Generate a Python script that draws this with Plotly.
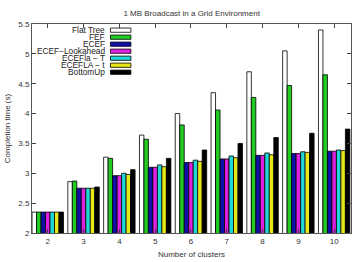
import plotly.graph_objects as go

clusters = [2, 3, 4, 5, 6, 7, 8, 9, 10]
series_names = ["Flat Tree", "FEF", "ECEF", "ECEF\u2212Lookahead", "ECEFla \u2212 T", "ECEFLA \u2212 t", "BottomUp"]
flat_tree = [2.35, 2.86, 3.27, 3.64, 4.00, 4.35, 4.70, 5.05, 5.40]
fef       = [2.35, 2.87, 3.25, 3.57, 3.81, 4.06, 4.27, 4.47, 4.65]
ecef      = [2.35, 2.75, 2.96, 3.10, 3.18, 3.24, 3.30, 3.33, 3.37]
ecef_la   = [2.35, 2.75, 2.96, 3.10, 3.18, 3.24, 3.30, 3.33, 3.37]
ecefla_T  = [2.35, 2.75, 3.00, 3.14, 3.22, 3.29, 3.34, 3.36, 3.39]
eceflA_t  = [2.35, 2.75, 2.98, 3.11, 3.20, 3.26, 3.31, 3.35, 3.38]
bottom_up = [2.35, 2.77, 3.06, 3.25, 3.39, 3.50, 3.60, 3.67, 3.74]
y_ticks = [2, 2.5, 3, 3.5, 4, 4.5, 5, 5.5]

series = [flat_tree, fef, ecef, ecef_la, ecefla_T, eceflA_t, bottom_up]
colors = ["#ffffff", "#22cc22", "#1010a8", "#e020e0", "#20d8d8", "#e8e818", "#000000"]

W, H = 357, 262
L, R, T, B = 31.7, 352.0, 24.3, 241.0

fig = go.Figure()
for name, vals, col in zip(series_names, series, colors):
    fig.add_trace(go.Bar(x=clusters, y=vals, name=name, marker_color=col,
                         marker_line_color="#000000", marker_line_width=0.8,
                         showlegend=False))

font = dict(family="Liberation Sans, Arial, sans-serif", size=8, color="#333333")

def px(x):
    return (x - L) / (R - L)

def py(y):
    return (B - y) / (B - T)

# custom gnuplot-style legend
y0 = 30.7
dy = 7.27
for i, (name, col) in enumerate(zip(series_names, colors)):
    yc = y0 + i * dy
    fig.add_annotation(x=px(107.5), y=py(yc), xref="paper", yref="paper",
                       text=name, showarrow=False, xanchor="right", yanchor="middle",
                       font=dict(family=font["family"], size=8.3, color="#222222"))
    fig.add_shape(type="rect", xref="paper", yref="paper",
                  x0=px(110.5), x1=px(131), y0=py(yc - 2.2), y1=py(yc + 2.2),
                  fillcolor=col, line=dict(color="#000000", width=0.8))

fig.update_layout(
    width=W, height=H,
    margin=dict(l=L, r=W - R, t=T, b=H - B, pad=0),
    paper_bgcolor="white", plot_bgcolor="white",
    barmode="group", bargap=0.122, bargroupgap=0,
    font=font,
    title=dict(text="1 MB Broadcast in a Grid Environment", x=px(192), xref="paper",
               y=1 - 13 / H, yanchor="middle", xanchor="center",
               font=dict(family=font["family"], size=8, color="#333333")),
    xaxis=dict(range=[1.56, 10.47], tickmode="array", tickvals=clusters,
               ticktext=[str(c) for c in clusters],
               ticks="inside", ticklen=4, tickcolor="#444444", tickwidth=1,
               showline=True, linecolor="#555555", linewidth=1, mirror="allticks",
               showgrid=False, zeroline=False,
               title=dict(text="Number of clusters", standoff=6, font=font),
               tickfont=font),
    yaxis=dict(range=[2, 5.5], tickmode="array", tickvals=y_ticks,
               ticktext=[("%g" % v) for v in y_ticks],
               ticks="inside", ticklen=4, tickcolor="#444444", tickwidth=1,
               showline=True, linecolor="#555555", linewidth=1, mirror="allticks",
               showgrid=False, zeroline=False,
               title=dict(text="Completion time (s)", standoff=6, font=font),
               tickfont=font),
)

fig.write_html("out.html")
